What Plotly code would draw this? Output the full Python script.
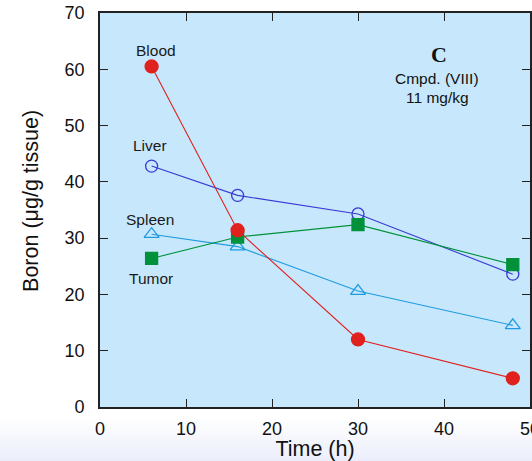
import plotly.graph_objects as go

time_h = [6, 16, 30, 48]
blood = [60.5, 31.4, 12.0, 5.1]
liver = [42.8, 37.6, 34.3, 23.6]
spleen = [30.7, 28.5, 20.6, 14.5]
tumor = [26.4, 30.2, 32.4, 25.3]

x_ticks = [0, 10, 20, 30, 40, 50]
y_ticks = [0, 10, 20, 30, 40, 50, 60, 70]

fig = go.Figure()

def add(y, color, symbol, size, name):
    fig.add_trace(go.Scatter(
        x=time_h, y=y, mode="lines+markers", name=name,
        line=dict(color=color, width=1.1),
        marker=dict(symbol=symbol, size=size, color=color,
                    line=dict(color=color, width=1.3)),
        cliponaxis=False, showlegend=False))

add(liver, "#3a3ad2", "circle-open", 12, "Liver")
add(spleen, "#1f9ae0", "triangle-up-open", 13, "Spleen")
add(tumor, "#00913a", "square", 12, "Tumor")
add(blood, "#e0211d", "circle", 13, "Blood")

# background gradient at the bottom of the page
n = 12
top_px, bot_px = 418, 461
ph = 394.0
for i in range(n):
    y0p = top_px + (bot_px - top_px) * i / n
    y1p = top_px + (bot_px - top_px) * (i + 1) / n
    t = (i + 0.5) / n
    r = int(round(255 - 20 * t))
    g = int(round(255 - 17 * t))
    b = int(round(255 - 4 * t))
    fig.add_shape(type="rect", xref="paper", yref="paper",
                  x0=-0.3, x1=1.1,
                  y0=-(y1p - 407) / ph - 0.002, y1=-(y0p - 407) / ph,
                  fillcolor=f"rgb({r},{g},{b})", line_width=0, layer="below")

labels = [("Blood", 6.5, 63.3), ("Liver", 5.8, 46.5), ("Spleen", 5.8, 33.3), ("Tumor", 5.9, 22.9)]
for txt, x, y in labels:
    fig.add_annotation(x=x, y=y, text=txt, showarrow=False,
                       font=dict(family="Arial", size=15.5, color="#1a1a1a"))

fig.add_annotation(x=39.4, y=62.7, text="<b>C</b>", showarrow=False,
                   font=dict(family="Liberation Serif", size=22, color="#111111"))
fig.add_annotation(x=39.2, y=58.4, text="Cmpd. (VIII)", showarrow=False,
                   font=dict(family="Arial", size=15.5, color="#111111"))
fig.add_annotation(x=39.2, y=55.0, text="11 mg/kg", showarrow=False,
                   font=dict(family="Arial", size=15.5, color="#111111"))

# y-axis title
fig.add_annotation(xref="paper", yref="paper", x=-0.1605, y=0.523,
                   xanchor="center", yanchor="middle",
                   text="Boron (μg/g tissue)", textangle=-90, showarrow=False,
                   font=dict(family="Arial", size=21.5, color="#111111"))

axis_common = dict(showline=True, linecolor="#222222", linewidth=1.6, mirror="ticks",
                   ticks="inside", ticklen=8, tickwidth=1.2, tickcolor="#222222",
                   showgrid=False, zeroline=False, ticklabeloverflow="allow",
                   automargin=False,
                   tickfont=dict(family="Arial", size=18, color="#111111"))

fig.update_layout(
    width=532, height=461,
    margin=dict(l=100, r=2, t=13, b=54),
    paper_bgcolor="white", plot_bgcolor="#c7e8fc",
    xaxis=dict(range=[0, 50], tickvals=x_ticks, ticklabelstandoff=5,
               title=dict(text="Time (h)", font=dict(family="Arial", size=21.5, color="#111111"), standoff=1),
               **axis_common),
    yaxis=dict(range=[0, 70], tickvals=y_ticks, ticklabelstandoff=10,
               **axis_common),
)

fig.write_html("out.html", config={"displayModeBar": False},
               post_script="document.body.style.margin='0';document.body.style.overflow='hidden';")
